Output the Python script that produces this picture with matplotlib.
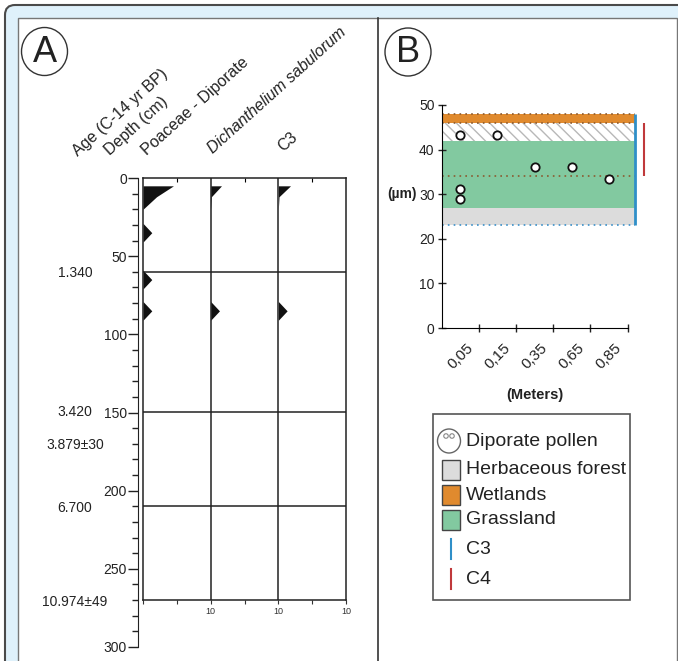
import matplotlib
matplotlib.use("Agg")
import matplotlib.pyplot as plt
from matplotlib import transforms
from matplotlib.patches import Rectangle, FancyBboxPatch, Ellipse

plt.rcParams['font.family'] = ['Liberation Sans', 'DejaVu Sans']

# ---- panel A data (pollen diagram) ----
sample_depth = [5, 12, 20, 29, 35, 41, 59, 65, 71, 79, 85, 91, 270]
poaceae = [4.5, 2.0, 0, 0, 1.3, 0, 0, 1.3, 0, 0, 1.3, 0, 0]
dichanthelium = [1.6, 0.1, 0, 0, 0, 0, 0, 0, 0, 0, 1.3, 0, 0]
c3_taxa = [1.8, 0.1, 0, 0, 0, 0, 0, 0, 0, 0, 1.3, 0, 0]
taxa_values = [poaceae, dichanthelium, c3_taxa]
taxa_names = ['Poaceae - Diporate', 'Dichanthelium sabulorum', 'C3']
zone_depths = [60, 150, 210]
core_bottom = 270
age_depth = [61, 150, 171, 211, 271]
age_labels = ['1.340', '3.420', '3.879\u00b130', '6.700', '10.974\u00b149']

# ---- panel B data ----
size_bins = ['0,05', '0,15', '0,35', '0,65', '0,85']
pollen_bin = [0, 1, 0, 0, 2, 3, 4]
pollen_um = [43.3, 43.3, 31.2, 28.9, 36.1, 36.1, 33.5]
band_lo = [23, 27, 42, 46]
band_hi = [27, 42, 46, 48]
band_colors = ['#dcdcdc', '#82c9a0', 'white', '#e08a2e']
c3_range = (23, 48)
c4_range = (34, 46)
dotted_levels = [48, 46, 34, 23]
dotted_colors = ['#8a5a30', '#8a5a30', '#8a5a30', '#3a8fc8']

legend_labels = ['Diporate pollen', 'Herbaceous forest', 'Wetlands', 'Grassland', 'C3', 'C4']

W, H = 678, 661
fig = plt.figure(figsize=(W / 100, H / 100), dpi=100)


def box(l, t, r, b):
    return [l / W, 1 - b / H, (r - l) / W, (b - t) / H]


# background drawing layer in pixel coordinates
bg = fig.add_axes([0, 0, 1, 1], zorder=0)
bg.set_xlim(0, W)
bg.set_ylim(H, 0)
bg.axis('off')
bg.add_patch(FancyBboxPatch((5, 5), W + 30, H + 30,
                            boxstyle='round,pad=0,rounding_size=10',
                            fc='#dff1fb', ec='#4a4a4a', lw=1.5))
bg.add_patch(Rectangle((18, 18), 659, H, fc='white', ec='#777777', lw=1))
bg.plot([378, 378], [18, H], color='#333333', lw=1.2)

# panel letters
for cx, cy, letter in [(44.5, 51.5, 'A'), (408, 52, 'B')]:
    bg.add_patch(Ellipse((cx, cy), 46, 48, fill=False, ec='#333333', lw=1))
    bg.text(cx, cy + 1, letter, fontsize=26, ha='center', va='center', color='#222222')

# rotated column headers
headers = [(78, 157, 'Age (C-14 yr BP)', 'normal'),
           (110, 156, 'Depth (cm)', 'normal'),
           (147, 156, taxa_names[0], 'normal'),
           (213, 154, taxa_names[1], 'italic'),
           (283, 152, taxa_names[2], 'normal')]
for hx, hy, s, st in headers:
    bg.text(hx, hy, s, rotation=42, rotation_mode='anchor', ha='left',
            va='baseline', fontsize=11.5, style=st, color='#222222')

# ---- panel A: depth axis ----
ax_d = fig.add_axes(box(143, 178, 346, 647), zorder=1)
ax_d.set_ylim(300, 0)
ax_d.set_xlim(0, 30)
ax_d.patch.set_visible(False)
for s in ['top', 'right', 'bottom']:
    ax_d.spines[s].set_visible(False)
ax_d.spines['left'].set_position(('outward', 3.5))
ax_d.spines['left'].set_color('#222222')
ax_d.set_xticks([])
ax_d.set_yticks(range(0, 301, 50))
ax_d.set_yticks(range(0, 301, 10), minor=True)
ax_d.tick_params(axis='y', which='major', length=7, width=1, pad=1,
                 labelsize=10, colors='#222222')
ax_d.tick_params(axis='y', which='minor', length=4, width=1, colors='#222222')

age_tr = transforms.blended_transform_factory(bg.transData, ax_d.transData)
for d, lab in zip(age_depth, age_labels):
    ax_d.text(75, d, lab, transform=age_tr, ha='center', va='center',
              fontsize=10, color='#222222')

# ---- panel A: diagram box ----
ax_a = fig.add_axes(box(143, 178, 346, 600), zorder=2)
ax_a.set_ylim(core_bottom, 0)
ax_a.set_xlim(0, 30)
ax_a.patch.set_visible(False)
for s in ax_a.spines.values():
    s.set_color('#222222')
    s.set_linewidth(1.1)
ax_a.set_yticks([])
ax_a.set_xticks(range(0, 31, 5))
ax_a.set_xticklabels(['', '', '10', '', '10', '', '10'])
ax_a.tick_params(axis='x', direction='out', length=3, width=0.8, pad=2,
                 labelsize=6.5, colors='#333333')
top = ax_a.secondary_xaxis('top')
top.set_xticks([5, 15, 25])
top.tick_params(direction='in', length=3, width=0.8, labeltop=False)
top.spines['top'].set_visible(False)
for i in range(1, len(taxa_values)):
    ax_a.axvline(i * 10, color='#222222', lw=1.1)
for z in zone_depths:
    ax_a.axhline(z, color='#222222', lw=1.1)
for i, vals in enumerate(taxa_values):
    ax_a.fill_betweenx(sample_depth, i * 10, [i * 10 + v for v in vals],
                       color='#111111', lw=0)

# ---- panel B ----
ax_b = fig.add_axes(box(441.5, 105, 650, 328), zorder=1)
ax_b.set_xlim(0, 5.6)
ax_b.set_ylim(0, 50)
ax_b.patch.set_visible(False)
ax_b.spines['top'].set_visible(False)
ax_b.spines['right'].set_visible(False)
ax_b.spines['left'].set_bounds(0, 50)
ax_b.spines['bottom'].set_bounds(0, 5)
band_right = 5.2
for lo, hi, col in zip(band_lo, band_hi, band_colors):
    if col == 'white':
        ax_b.fill_between([0, band_right], lo, hi, facecolor='white',
                          edgecolor='#b8b8b8', hatch='\\\\\\', lw=0)
    else:
        ax_b.fill_between([0, band_right], lo, hi, color=col, lw=0)
for lev, col in zip(dotted_levels, dotted_colors):
    ax_b.hlines(lev, 0, band_right, colors=col, linestyles=(0, (1, 2.5)), lw=1.2)
ax_b.vlines(band_right, *c3_range, colors='#2f8fc8', lw=2)
ax_b.vlines(5.45, *c4_range, colors='#c0393b', lw=1.5)
ax_b.plot([b + 0.5 for b in pollen_bin], pollen_um, 'o', ms=6, mfc='white',
          mec='#111111', mew=1.3, clip_on=False)

ax_b.set_yticks(range(0, 51, 10))
ax_b.set_xticks(range(1, len(size_bins) + 1))
ax_b.set_xticklabels([])
ax_b.set_xticks([i + 0.5 for i in range(len(size_bins))], minor=True)
ax_b.set_xticklabels(size_bins, minor=True, rotation=45, ha='center', va='top')
ax_b.tick_params(axis='both', which='major', direction='inout', length=6,
                 width=1, labelsize=10, pad=2, colors='#222222')
ax_b.tick_params(axis='x', which='minor', length=0, pad=9, labelsize=11,
                 colors='#222222')
ax_b.set_ylabel('(\u00b5m)', rotation=0, fontweight='bold', fontsize=10,
                ha='center', va='center', color='#222222')
ax_b.yaxis.set_label_coords(-0.19, 0.6)
ax_b.set_xlabel('(Meters)', fontweight='bold', fontsize=10.5, color='#222222')
ax_b.xaxis.set_label_coords(0.448, -0.27)

# ---- legend (drawn in pixel space) ----
bg.add_patch(Rectangle((433, 414), 197, 186, fill=False, ec='#555555', lw=1.2))
row_y = [441, 470, 495, 520, 549, 579]
legend_kinds = ['circle', 'patch', 'patch', 'patch', 'line', 'line']
legend_colors = ['white', band_colors[0], band_colors[3], band_colors[1],
                 '#2f8fc8', '#c0393b']
for y, lab, kind, col in zip(row_y, legend_labels, legend_kinds, legend_colors):
    if kind == 'circle':
        bg.add_patch(Ellipse((449, y), 23, 24, fc='white', ec='#666666', lw=1))
        for dx in (-3, 3):
            bg.add_patch(Ellipse((449 + dx, y - 5), 4.5, 4.5, fill=False,
                                 ec='#888888', lw=0.8))
    elif kind == 'patch':
        bg.add_patch(Rectangle((442, y - 10), 18, 20, fc=col, ec='#444444', lw=1))
    else:
        bg.plot([451, 451], [y - 10, y + 10], color=col, lw=1.5)
    bg.text(466, y, lab, fontsize=14, va='center', ha='left', color='#222222')

fig.savefig('out.png', dpi=100)
